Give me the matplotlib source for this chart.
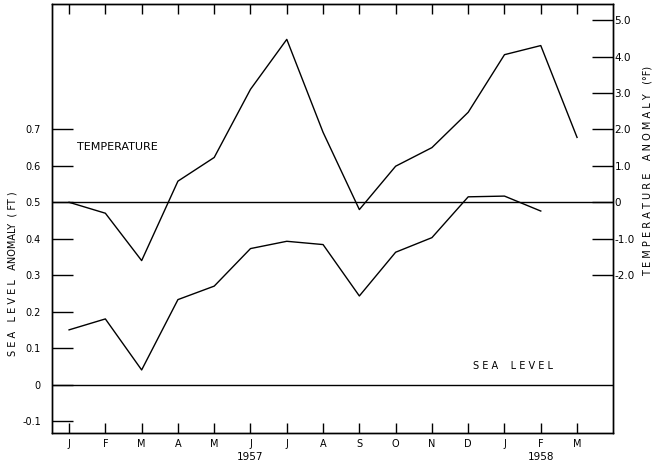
import numpy as np
import matplotlib
matplotlib.use("Agg")
import matplotlib.pyplot as plt
import matplotlib.transforms as mtransforms

# data
months = ['J', 'F', 'M', 'A', 'M', 'J', 'J', 'A', 'S', 'O', 'N', 'D', 'J', 'F', 'M']
temperature = [0.0, -0.3, -1.6, 0.58, 1.23, 3.1, 4.47, 1.92, -0.2, 0.99, 1.5, 2.47, 4.05, 4.3, 1.78]
sea_level = [0.15, 0.18, 0.04, 0.233, 0.27, 0.373, 0.393, 0.384, 0.243, 0.363, 0.403, 0.515, 0.517, 0.476]
sea_ticks = [-0.1, 0, 0.1, 0.2, 0.3, 0.4, 0.5, 0.6, 0.7]
sea_tick_labels = ['-0.1', '0', '0.1', '0.2', '0.3', '0.4', '0.5', '0.6', '0.7']
temp_ticks = [-2, -1, 0, 1, 2, 3, 4, 5]
temp_tick_labels = ['-2.0', '-1.0', '0', '1.0', '2.0', '3.0', '4.0', '5.0']
years = ['1957', '1958']
year_pos = [5, 13]

plt.rcParams['font.family'] = 'DejaVu Sans'
fig = plt.figure(figsize=(6.67, 4.67), dpi=100)
ax = fig.add_axes([0.078, 0.0728, 0.841, 0.9186])

sea_lo, sea_hi = -0.133, 1.044
ax.set_xlim(-0.47, 14.99)
ax.set_ylim(sea_lo, sea_hi)

ax2 = ax.twinx()
# temperature 0 sits on sea level 0.5, 1 deg F = 0.1 ft
ax2.set_ylim((sea_lo - 0.5) * 10, (sea_hi - 0.5) * 10)

x = np.arange(len(months))
ax.plot(x[:len(sea_level)], sea_level, color='black', lw=1.0)
ax2.plot(x, temperature, color='black', lw=1.0)

ax.axhline(0.5, color='black', lw=1.0)
ax.axhline(0.0, color='black', lw=1.0)

ax.set_xticks(x)
ax.set_xticklabels(months, fontsize=7)
ax.tick_params(axis='x', direction='in', length=7, width=1, top=True, pad=4)
ax.set_yticks(sea_ticks)
ax.set_yticklabels(sea_tick_labels, fontsize=7)
ax.tick_params(axis='y', direction='in', length=15, width=1, pad=8)

ax2.set_yticks(temp_ticks)
ax2.set_yticklabels(temp_tick_labels, fontsize=7.5)
ax2.tick_params(axis='y', direction='in', length=15, width=1, pad=1)

for a in (ax, ax2):
    for s in a.spines.values():
        s.set_linewidth(1.0)

# axis titles placed by hand, as in the original
fig.text(13 / 667, 1 - 274 / 467, 'S E A   L E V E L   ANOMALY  ( FT )', fontsize=7,
         rotation=90, ha='center', va='center')
fig.text(648 / 667, 1 - 171 / 467, 'T E M P E R A T U R E    A N O M A L Y   (°F)', fontsize=7,
         rotation=90, ha='center', va='center')

ax.text(0.22, 0.651, 'TEMPERATURE', fontsize=8, va='center', ha='left')
ax.text(11.13, 0.05, 'S E A    L E V E L', fontsize=7, va='center', ha='left')

trans = mtransforms.blended_transform_factory(ax.transData, ax.transAxes)
for yr, pos in zip(years, year_pos):
    ax.text(pos, -0.055, yr, fontsize=7.5, ha='center', va='center', transform=trans)

fig.savefig('out.png', dpi=100)
